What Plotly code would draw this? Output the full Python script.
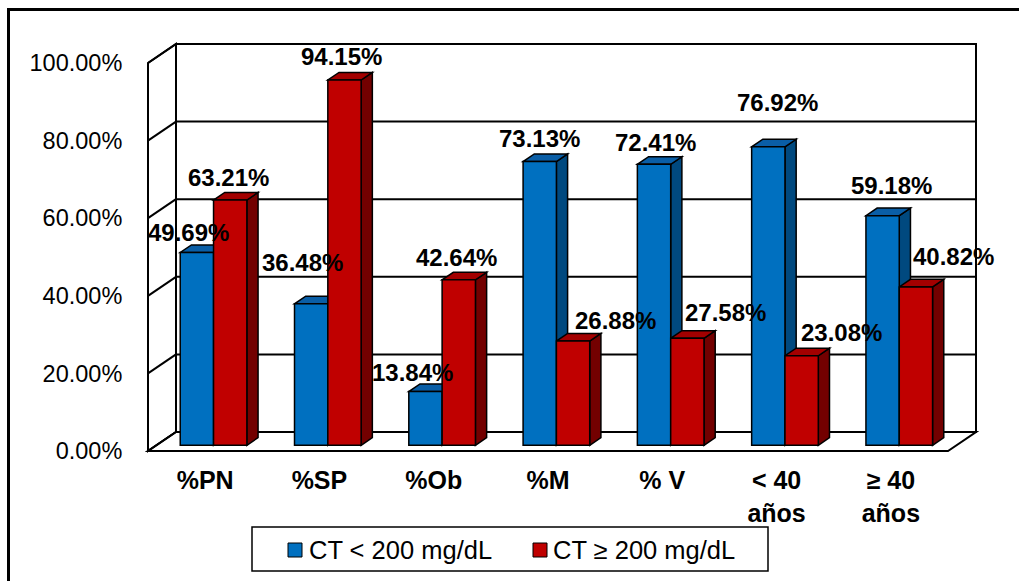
import plotly.graph_objects as go

# ---- data -------------------------------------------------------------
categories = ["%PN", "%SP", "%Ob", "%M", "% V", "< 40<br>años", "≥ 40<br>años"]
ct_low = [49.69, 36.48, 13.84, 73.13, 72.41, 76.92, 59.18]
ct_high = [63.21, 94.15, 42.64, 26.88, 27.58, 23.08, 40.82]
series_names = ["CT < 200 mg/dL", "CT ≥ 200 mg/dL"]
y_ticks = [0, 20, 40, 60, 80, 100]
y_tick_labels = ["0.00%", "20.00%", "40.00%", "60.00%", "80.00%", "100.00%"]

# ---- style ------------------------------------------------------------
FONT = "Arial, Liberation Sans, sans-serif"
BLUE = dict(front="#0070C0", top="#0A5EA6", side="#00497F")
RED = dict(front="#C00000", top="#A30000", side="#730000")

# label nudges in px (x, y) relative to each bar's top
low_shift = [(-8, 20), (-9, 41), (-13, 19), (0, 23), (1, 22), (9, 44), (9, 30)]
high_shift = [(-2, 23), (-3, 24), (-2, 22), (42, 21), (38, 26), (40, 23), (38, 30)]

# ---- pseudo-3D geometry (pixels of the 1019x581 canvas) ---------------
W, H = 1019, 581
FRONT_L, FRONT_R = 148, 948      # front edge of the floor
FRONT_0, FRONT_100 = 451, 63     # 0% and 100% on the front plane
DEPTH_PX_X, DEPTH_PX_Y = 28, 19  # offset from front plane to back wall
PAD = 3

n = len(categories)
PX = (FRONT_R - FRONT_L) / n            # px per category unit
PY = (FRONT_0 - FRONT_100) / 100.0      # px per percent
DX = DEPTH_PX_X / PX
DY = DEPTH_PX_Y / PY

plot_l = FRONT_L - PAD
plot_r = FRONT_R + DEPTH_PX_X + PAD
plot_b = FRONT_0 + PAD
plot_t = FRONT_100 - DEPTH_PX_Y - PAD
x_range = [-PAD / PX, (plot_r - FRONT_L) / PX]
y_range = [-PAD / PY, (FRONT_0 - plot_t) / PY]

BAR_W = 0.2915           # width of one bar, category units
BAR_Z0 = 0.30            # depth where bar fronts sit (0 front .. 1 back)
BAR_DEPTH = 0.40         # bar thickness as share of full depth
base = BAR_Z0 * DY
bx = BAR_Z0 * DX
ddx, ddy = BAR_DEPTH * DX, BAR_DEPTH * DY


def px2paper_x(px):
    return (px - plot_l) / (plot_r - plot_l)


def px2paper_y(py):
    return (plot_b - py) / (plot_b - plot_t)


def poly(pts):
    return "M " + " L ".join(f"{x},{y}" for x, y in pts) + " Z"


shapes = []
LINE = dict(color="black", width=2)

# back wall, left wall, floor
shapes.append(dict(type="path", layer="below", xref="x", yref="y",
                   path=poly([(DX, DY), (n + DX, DY), (n + DX, 100 + DY), (DX, 100 + DY)]),
                   fillcolor="white", line=LINE))
shapes.append(dict(type="path", layer="below", xref="x", yref="y",
                   path=poly([(0, 0), (DX, DY), (DX, 100 + DY), (0, 100)]),
                   fillcolor="white", line=LINE))
shapes.append(dict(type="path", layer="below", xref="x", yref="y",
                   path=poly([(0, 0), (n, 0), (n + DX, DY), (DX, DY)]),
                   fillcolor="white", line=LINE))
# gridlines on back wall and left wall
for v in y_ticks:
    shapes.append(dict(type="line", layer="below", xref="x", yref="y",
                       x0=DX, y0=v + DY, x1=n + DX, y1=v + DY, line=LINE))
    shapes.append(dict(type="line", layer="below", xref="x", yref="y",
                       x0=0, y0=v, x1=DX, y1=v + DY, line=LINE))

# bar centres on the category axis
centers = [i + 0.5 + bx for i in range(n)]
low_x = [c - BAR_W / 2 for c in centers]
high_x = [c + BAR_W / 2 for c in centers]


def bar_faces(xc, v, col):
    xl, xr = xc - BAR_W / 2, xc + BAR_W / 2
    top = base + v
    side = poly([(xr, base), (xr + ddx, base + ddy), (xr + ddx, top + ddy), (xr, top)])
    lid = poly([(xl, top), (xr, top), (xr + ddx, top + ddy), (xl + ddx, top + ddy)])
    out = []
    for p, fc in ((side, col["side"]), (lid, col["top"])):
        out.append(dict(type="path", layer="below", xref="x", yref="y", path=p,
                        fillcolor=fc, line=dict(color="black", width=1.5)))
    return out


for xc, v in zip(low_x, ct_low):
    shapes += bar_faces(xc, v, BLUE)
for xc, v in zip(high_x, ct_high):
    shapes += bar_faces(xc, v, RED)

fig = go.Figure()
fig.add_trace(go.Bar(x=low_x, y=ct_low, base=base, width=BAR_W, name=series_names[0],
                     marker=dict(color=BLUE["front"], line=dict(color="black", width=1.5)),
                     showlegend=False))
fig.add_trace(go.Bar(x=high_x, y=ct_high, base=base, width=BAR_W, name=series_names[1],
                     marker=dict(color=RED["front"], line=dict(color="black", width=1.5)),
                     showlegend=False))

# value labels
annotations = []
for xs, vals, shifts in ((low_x, ct_low, low_shift), (high_x, ct_high, high_shift)):
    for xc, v, (sx, sy) in zip(xs, vals, shifts):
        annotations.append(dict(x=xc, y=base + v, xref="x", yref="y", text=f"{v:.2f}%",
                                showarrow=False, xshift=sx, yshift=sy,
                                xanchor="center", yanchor="middle",
                                font=dict(family=FONT, size=24, color="black", weight="bold")))

# legend box
LEG_L, LEG_R, LEG_T, LEG_B = 252, 768, 527, 571
shapes.append(dict(type="rect", xref="paper", yref="paper",
                   x0=px2paper_x(LEG_L), x1=px2paper_x(LEG_R),
                   y0=px2paper_y(LEG_B), y1=px2paper_y(LEG_T),
                   line=dict(color="black", width=1.5), fillcolor="white"))
for (sq_l, txt_l), name, col in (((288, 307), series_names[0], BLUE),
                                 ((533, 551), series_names[1], RED)):
    shapes.append(dict(type="rect", xref="paper", yref="paper",
                       x0=px2paper_x(sq_l), x1=px2paper_x(sq_l + 14),
                       y0=px2paper_y(557), y1=px2paper_y(543),
                       line=dict(color="black", width=1), fillcolor=col["front"]))
    annotations.append(dict(x=px2paper_x(txt_l), y=px2paper_y(550), xref="paper", yref="paper",
                            text=name, showarrow=False, xanchor="left", yanchor="middle",
                            font=dict(family=FONT, size=25.5, color="black")))

# outer frame
shapes.append(dict(type="rect", xref="paper", yref="paper",
                   x0=px2paper_x(8.5), x1=px2paper_x(W + 20),
                   y0=px2paper_y(H + 20), y1=px2paper_y(9.5),
                   line=dict(color="black", width=3), fillcolor="rgba(0,0,0,0)"))

fig.update_layout(
    width=W, height=H, autosize=False,
    margin=dict(l=plot_l, r=W - plot_r, t=plot_t, b=H - plot_b, pad=0),
    paper_bgcolor="white", plot_bgcolor="rgba(0,0,0,0)",
    barmode="overlay", showlegend=False,
    shapes=shapes, annotations=annotations,
    font=dict(family=FONT, color="black"),
    xaxis=dict(range=x_range, tickvals=[i + 0.5 for i in range(n)], ticktext=categories,
               showgrid=False, zeroline=False, showline=False,
               ticks="outside", ticklen=4, tickcolor="rgba(0,0,0,0)",
               tickfont=dict(family=FONT, size=25, color="black", weight="bold"),
               fixedrange=True),
    yaxis=dict(range=y_range, tickvals=y_ticks, ticktext=y_tick_labels,
               showgrid=False, zeroline=False, showline=False,
               ticks="outside", ticklen=17, tickcolor="rgba(0,0,0,0)",
               tickfont=dict(family=FONT, size=23.5, color="black"),
               fixedrange=True),
)

fig.write_html("out.html")
